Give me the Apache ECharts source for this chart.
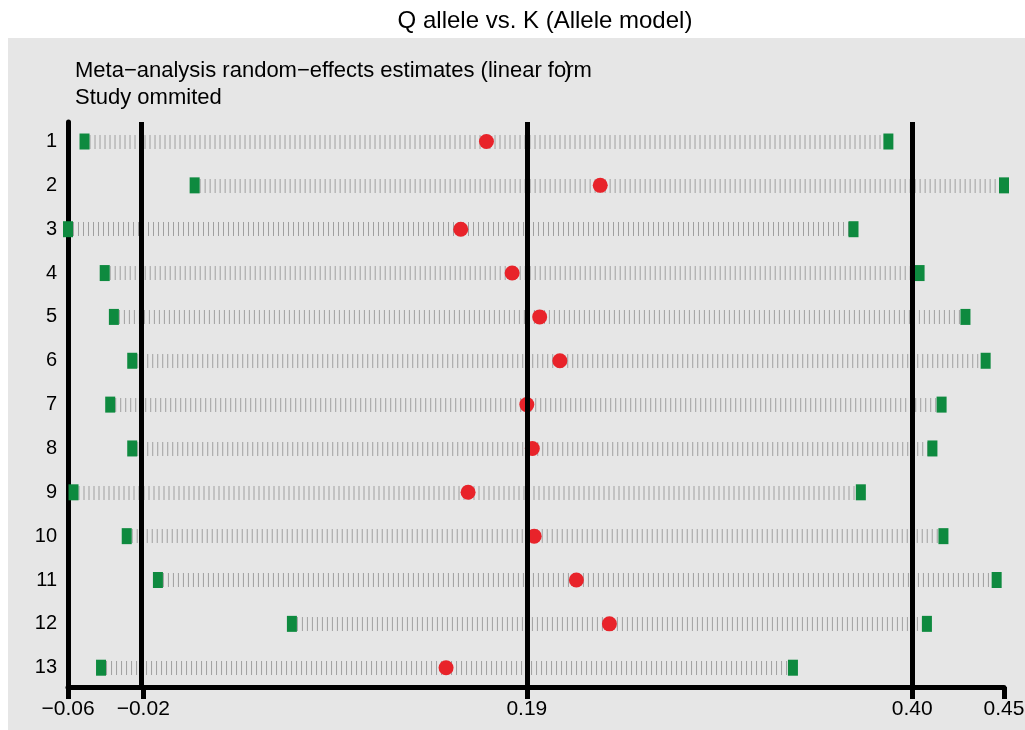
<!DOCTYPE html>
<html>
<head>
<meta charset="UTF-8">
<title>Q allele vs. K (Allele model)</title>
<script src="https://cdn.jsdelivr.net/npm/echarts@6/dist/echarts.min.js"></script>
<style>
  html, body { margin: 0; padding: 0; background: #fff; }
  #chart { width: 1025px; height: 730px; }
</style>
</head>
<body>
<div id="chart"></div>
<script>
// study omitted (row labels)
const rows = [1, 2, 3, 4, 5, 6, 7, 8, 9, 10, 11, 12, 13];
// estimates
const lowerCI = [-0.051, 0.009, -0.060, -0.040, -0.035, -0.025, -0.037, -0.025, -0.057, -0.028, -0.011, 0.062, -0.042];
const estimate = [0.168, 0.230, 0.154, 0.182, 0.197, 0.208, 0.190, 0.193, 0.158, 0.194, 0.217, 0.235, 0.146];
const upperCI = [0.387, 0.450, 0.368, 0.404, 0.429, 0.440, 0.416, 0.411, 0.372, 0.417, 0.446, 0.408, 0.335];
// overall lower CI, estimate, upper CI (vertical reference lines)
const overall = [-0.019, 0.190, 0.400];
// x ticks
const tickValues = [-0.06, -0.019, 0.190, 0.400, 0.45];

const FONT = 'Liberation Sans, Arial, Helvetica, sans-serif';
const GREEN = '#0e8a3f';
const RED = '#e8232a';

const subtitle = 'Meta\u2212analysis random\u2212effects estimates (linear form';
// where the stray ")" sits (it overlaps the "r" in the original)
const ctx = document.createElement('canvas').getContext('2d');
ctx.font = '22px ' + FONT;
const parenX = 75 + ctx.measureText('Meta\u2212analysis random\u2212effects estimates (linear fo').width - 2;

const chart = echarts.init(document.getElementById('chart'), null, { renderer: 'canvas' });

const fmt = v => v.toFixed(2).replace('-', '\u2212');

const option = {
  animation: false,
  backgroundColor: '#fff',
  graphic: [
    { type: 'rect', z: -10, silent: true,
      shape: { x: 8, y: 38, width: 1017, height: 692 },
      style: { fill: '#e6e6e6' } },
    { type: 'text', x: 545, y: 21, z: 10,
      style: { text: 'Q allele vs. K (Allele model)', font: '24px ' + FONT, fill: '#000',
               align: 'center', verticalAlign: 'middle' } },
    { type: 'text', x: 75, y: 71, z: 10,
      style: { text: subtitle, font: '22px ' + FONT, fill: '#000', verticalAlign: 'middle' } },
    { type: 'text', x: parenX, y: 71, z: 11,
      style: { text: ')', font: '22px ' + FONT, fill: '#000', verticalAlign: 'middle' } },
    { type: 'text', x: 75, y: 98, z: 10,
      style: { text: 'Study ommited', font: '22px ' + FONT, fill: '#000', verticalAlign: 'middle' } }
  ],
  grid: { left: 68, right: 21, top: 122, bottom: 43, outerBoundsMode: 'none', containLabel: false },
  xAxis: {
    type: 'value',
    min: -0.06,
    max: 0.45,
    splitLine: { show: false },
    axisLine: { show: true, onZero: false, lineStyle: { color: '#000', width: 5 } },
    axisTick: { show: true, length: 12, customValues: tickValues, lineStyle: { color: '#000', width: 5 } },
    axisLabel: {
      customValues: tickValues,
      formatter: fmt,
      fontSize: 21,
      fontFamily: FONT,
      color: '#000',
      margin: 12,
      showMinLabel: true,
      showMaxLabel: true
    }
  },
  yAxis: {
    type: 'value',
    inverse: true,
    min: 0.555,
    max: 13.44,
    splitLine: { show: false },
    axisLine: { show: true, onZero: false, lineStyle: { color: '#000', width: 5 } },
    axisTick: { show: false },
    axisLabel: {
      customValues: rows,
      fontSize: 20,
      fontFamily: FONT,
      color: '#000',
      margin: 11
    }
  },
  series: [
    {
      // dotted band between lower and upper limits
      type: 'lines',
      coordinateSystem: 'cartesian2d',
      z: 1,
      silent: true,
      lineStyle: { color: '#a0a0a0', width: 14, type: [1, 4], opacity: 1, cap: 'butt' },
      data: rows.map((r, i) => ({ coords: [[lowerCI[i], r], [upperCI[i], r]] }))
    },
    {
      type: 'scatter',
      z: 2,
      silent: true,
      data: [],
      markLine: {
        silent: true,
        symbol: 'none',
        label: { show: false },
        lineStyle: { color: '#000', width: 5, type: 'solid' },
        data: overall.map(v => ({ xAxis: v }))
      }
    },
    {
      name: 'Lower CI',
      type: 'scatter',
      z: 3,
      clip: false,
      symbol: 'rect',
      symbolSize: [10, 16],
      itemStyle: { color: GREEN, opacity: 1 },
      data: rows.map((r, i) => [lowerCI[i], r])
    },
    {
      name: 'Upper CI',
      type: 'scatter',
      z: 3,
      clip: false,
      symbol: 'rect',
      symbolSize: [10, 16],
      itemStyle: { color: GREEN, opacity: 1 },
      data: rows.map((r, i) => [upperCI[i], r])
    },
    {
      name: 'Estimate',
      type: 'scatter',
      z: 4,
      clip: false,
      symbol: 'circle',
      symbolSize: 15,
      itemStyle: { color: RED, opacity: 1 },
      data: rows.map((r, i) => [estimate[i], r])
    }
  ]
};

chart.setOption(option);
</script>
</body>
</html>
